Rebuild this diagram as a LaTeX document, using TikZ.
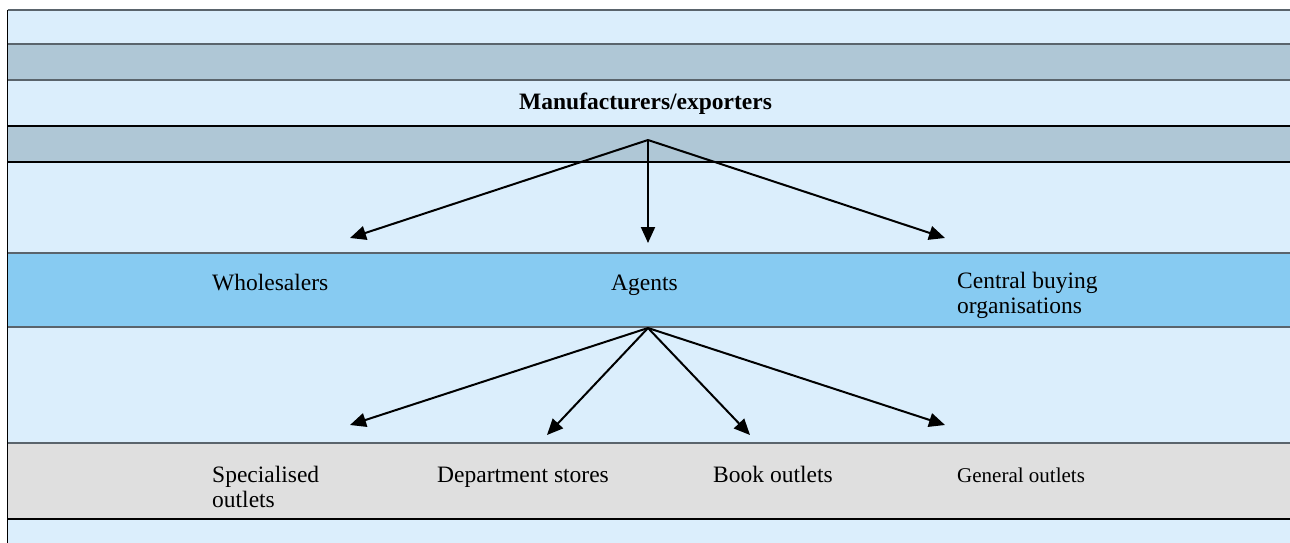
\documentclass[tikz,border=0pt]{standalone}
\usepackage{fontspec}
\setmainfont{Liberation Serif}
\usetikzlibrary{arrows.meta}
\definecolor{paleblue}{HTML}{DBEEFC}
\definecolor{steelband}{HTML}{AFC7D6}
\definecolor{skyband}{HTML}{87CBF2}
\definecolor{greyband}{HTML}{DFDFDF}
\definecolor{rulegrey}{HTML}{5A646C}
\tikzset{
  label text/.style={inner sep=0pt, anchor=base west, align=left,
    font=\fontsize{23.5}{25}\selectfont},
  flow/.style={line width=2pt, -{Triangle[length=16pt,width=14pt]}},
}
\begin{document}
\begin{tikzpicture}[x=1pt,y=-1pt]
\useasboundingbox (0,0) rectangle (1290,543);
\fill[white] (0,0) rectangle (1290,543);
% horizontal bands
\fill[paleblue]  (7.5,10)  rectangle (1290,44);
\fill[steelband] (7.5,44)  rectangle (1290,80);
\fill[paleblue]  (7.5,80)  rectangle (1290,126);
\fill[steelband] (7.5,126) rectangle (1290,162);
\fill[paleblue]  (7.5,162) rectangle (1290,253);
\fill[skyband]   (7.5,253) rectangle (1290,327);
\fill[paleblue]  (7.5,327) rectangle (1290,443);
\fill[greyband]  (7.5,443) rectangle (1290,519);
\fill[paleblue]  (7.5,519) rectangle (1290,543);
% band rules
\draw[rulegrey, line width=1.2pt] (7.5,10) -- (1290,10);
\draw[rulegrey, line width=1.5pt] (7.5,44) -- (1290,44);
\draw[rulegrey, line width=1.5pt] (7.5,80) -- (1290,80);
\draw[black, line width=1.2pt] (7.5,126) -- (1290,126);
\draw[black, line width=1.2pt] (7.5,162) -- (1290,162);
\draw[rulegrey, line width=1.5pt] (7.5,253) -- (1290,253);
\draw[rulegrey, line width=1.5pt] (7.5,327) -- (1290,327);
\draw[rulegrey, line width=1.5pt] (7.5,443) -- (1290,443);
\draw[black, line width=1.5pt] (7.5,519) -- (1290,519);
\draw[black, line width=1.5pt] (7.5,10) -- (7.5,543);
% labels (multi-line labels are anchored at their last baseline)
\node[label text] (maker) at (519,109) {\bfseries Manufacturers/exporters};
\node[label text] (whole) at (212,290) {Wholesalers};
\node[label text] (agents) at (611,290) {Agents};
\node[label text] (central) at (957,313) {Central buying\\organisations};
\node[label text] (special) at (212,507) {Specialised\\outlets};
\node[label text] (dept) at (437,482) {Department stores};
\node[label text] (book) at (713,482) {Book outlets};
\node[label text, font=\fontsize{21}{25}\selectfont] (general) at (957,482) {General outlets};
% arrow sources and tips
\coordinate (srcA) at (648,140);
\coordinate (srcB) at (648,328);
\coordinate (toWhole) at (350,238);
\coordinate (toAgents) at (648,243);
\coordinate (toCentral) at (945,238);
\coordinate (toSpecial) at (350,425);
\coordinate (toDept) at (547,435);
\coordinate (toBook) at (750,435);
\coordinate (toGeneral) at (945,425);
\draw[flow] (srcA) -- (toWhole);
\draw[flow] (srcA) -- (toAgents);
\draw[flow] (srcA) -- (toCentral);
\draw[flow] (srcB) -- (toSpecial);
\draw[flow] (srcB) -- (toDept);
\draw[flow] (srcB) -- (toBook);
\draw[flow] (srcB) -- (toGeneral);
\end{tikzpicture}
\end{document}
